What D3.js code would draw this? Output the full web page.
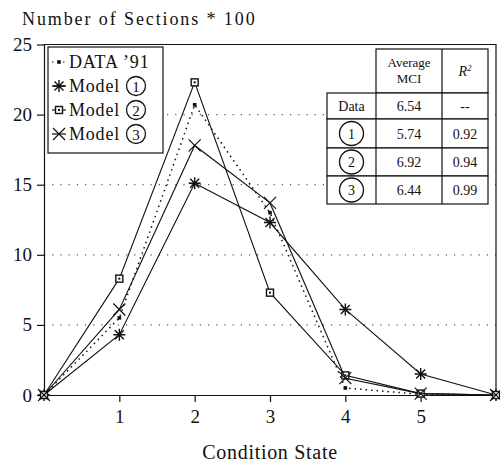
<!DOCTYPE html>
<html>
<head>
<meta charset="utf-8">
<script src="https://d3js.org/d3.v7.min.js"></script>
<style>
  body { margin: 0; background: #fff; }
  svg { font-family: "Liberation Serif", "DejaVu Serif", serif; }
</style>
</head>
<body>
<svg id="chart" width="500" height="464"></svg>
<script>
// condition states on the x axis
const states = [0, 1, 2, 3, 4, 5, 6];
const data91 = [0, 5.5, 20.7, 13.0, 0.5, 0.05, 0];
const model1 = [0, 4.3, 15.1, 12.3, 6.1, 1.5, 0];
const model2 = [0, 8.3, 22.3, 7.3, 1.4, 0.1, 0];
const model3 = [0, 6.1, 17.8, 13.7, 1.2, 0.1, 0];

const yTicks = [0, 5, 10, 15, 20, 25];
const xTicks = [1, 2, 3, 4, 5];
const gridValues = [5, 10, 15, 20];

// table in the top right corner
const tableRows = ['Data', '1', '2', '3'];
const avgMCI = ['6.54', '5.74', '6.92', '6.44'];
const rSquared = ['--', '0.92', '0.94', '0.99'];

const svg = d3.select('#chart');
const plotLeft = 44, plotRight = 496, plotTop = 44.5, plotBottom = 395;

const x = d3.scaleLinear().domain([0, 6]).range([plotLeft, plotRight]);
const y = d3.scaleLinear().domain([0, 25]).range([plotBottom, plotTop]);

// dotted grid
svg.append('g')
  .selectAll('line')
  .data(gridValues)
  .enter()
  .append('line')
  .attr('x1', plotLeft)
  .attr('x2', plotRight)
  .attr('y1', (d) => y(d))
  .attr('y2', (d) => y(d))
  .attr('stroke', '#555')
  .attr('stroke-width', 1.2)
  .attr('stroke-dasharray', '1.2,7');

// frame: top and right
svg.append('path')
  .attr('d', `M${plotLeft},${plotTop}H${plotRight}V${plotBottom}`)
  .attr('fill', 'none')
  .attr('stroke', '#111')
  .attr('stroke-width', 1.2);

// axes
const yAxis = svg.append('g')
  .attr('transform', `translate(${plotLeft},0)`)
  .call(d3.axisLeft(y).tickValues(yTicks).tickFormat(d3.format('d')).tickSize(7).tickSizeOuter(0).tickPadding(5));

const xAxis = svg.append('g')
  .attr('transform', `translate(0,${plotBottom})`)
  .call(d3.axisBottom(x).tickValues(xTicks).tickFormat(d3.format('d')).tickSize(7).tickSizeOuter(0).tickPadding(8));

[yAxis, xAxis].forEach((g) => {
  g.selectAll('path, line').attr('stroke', '#111').attr('stroke-width', 1.2);
  g.selectAll('text')
    .attr('fill', '#111')
    .style('font-family', '"Liberation Serif", serif')
    .style('font-size', '19px');
});

// series
const line = d3.line()
  .x((d, i) => x(states[i]))
  .y((d) => y(d));

const series = [
  { name: 'DATA \u201991', values: data91, dash: '1.5,4', marker: 'dot', num: null },
  { name: 'Model', values: model1, dash: null, marker: 'star', num: '1' },
  { name: 'Model', values: model2, dash: null, marker: 'square', num: '2' },
  { name: 'Model', values: model3, dash: null, marker: 'cross', num: '3' }
];

function drawMarker(g, type) {
  if (type === 'dot') {
    g.append('rect').attr('x', -1.8).attr('y', -1.8).attr('width', 3.6).attr('height', 3.6).attr('fill', '#111');
  } else if (type === 'star') {
    g.append('path')
      .attr('d', 'M-6,0H6M0,-6V6M-4.5,-4.5L4.5,4.5M-4.5,4.5L4.5,-4.5')
      .attr('stroke', '#111').attr('stroke-width', 1.4);
  } else if (type === 'square') {
    g.append('rect').attr('x', -3.5).attr('y', -3.5).attr('width', 7).attr('height', 7)
      .attr('fill', '#fff').attr('stroke', '#111').attr('stroke-width', 1.4);
    g.append('rect').attr('x', -1).attr('y', -1).attr('width', 2).attr('height', 2).attr('fill', '#111');
  } else if (type === 'cross') {
    g.append('path')
      .attr('d', 'M-6,-6L6,6M-6,6L6,-6')
      .attr('stroke', '#111').attr('stroke-width', 1.2);
  }
}

series.forEach((s) => {
  svg.append('path')
    .datum(s.values)
    .attr('d', line)
    .attr('fill', 'none')
    .attr('stroke', '#111')
    .attr('stroke-width', s.dash ? 1.5 : 1.1)
    .attr('stroke-dasharray', s.dash);

  s.values.forEach((v, i) => {
    const g = svg.append('g').attr('transform', `translate(${x(states[i])},${y(v)})`);
    drawMarker(g, s.marker);
  });
});

// legend
const legend = svg.append('g');
legend.append('rect')
  .attr('x', 48).attr('y', 47).attr('width', 115).attr('height', 106)
  .attr('fill', '#fff').attr('stroke', '#111').attr('stroke-width', 1.2);

series.forEach((s, i) => {
  const cy = 62 + i * 24;
  const g = legend.append('g').attr('transform', `translate(0,${cy})`);
  g.append('line').attr('x1', 52).attr('x2', 66).attr('y1', 0).attr('y2', 0)
    .attr('stroke', '#111').attr('stroke-width', 1.2).attr('stroke-dasharray', s.dash);
  const m = g.append('g').attr('transform', 'translate(59,0)');
  drawMarker(m, s.marker);
  g.append('text')
    .attr('x', 69).attr('y', 6)
    .style('font-size', '18px')
    .style('letter-spacing', '0.8px')
    .attr('fill', '#111')
    .text(s.name);
  if (s.num) {
    g.append('circle').attr('cx', 136).attr('cy', 0).attr('r', 9.5)
      .attr('fill', 'none').attr('stroke', '#111').attr('stroke-width', 1.3);
    g.append('text').attr('x', 136).attr('y', 5.5).attr('text-anchor', 'middle')
      .style('font-size', '15px').attr('fill', '#111').text(s.num);
  }
});

// table
const colX = [327, 376, 442, 488];
const rowY = [49, 93, 119, 148, 176, 204];
const table = svg.append('g');
table.append('rect')
  .attr('x', colX[1]).attr('y', rowY[0]).attr('width', colX[3] - colX[1]).attr('height', rowY[1] - rowY[0])
  .attr('fill', '#fff').attr('stroke', '#111').attr('stroke-width', 1.2);
table.append('line').attr('x1', colX[2]).attr('x2', colX[2]).attr('y1', rowY[0]).attr('y2', rowY[1])
  .attr('stroke', '#111').attr('stroke-width', 1.2);
table.append('text').attr('x', (colX[1] + colX[2]) / 2).attr('y', rowY[0] + 18)
  .attr('text-anchor', 'middle').style('font-size', '13px').attr('fill', '#111').text('Average');
table.append('text').attr('x', (colX[1] + colX[2]) / 2).attr('y', rowY[0] + 34)
  .attr('text-anchor', 'middle').style('font-size', '13px').attr('fill', '#111').text('MCI');
const r2 = table.append('text').attr('x', (colX[2] + colX[3]) / 2).attr('y', rowY[0] + 27)
  .attr('text-anchor', 'middle').style('font-size', '14px').style('font-style', 'italic').attr('fill', '#111');
r2.append('tspan').text('R');
r2.append('tspan').attr('dy', -5).style('font-size', '9px').text('2');

tableRows.forEach((label, i) => {
  const y0 = rowY[i + 1], y1 = rowY[i + 2];
  const cy = (y0 + y1) / 2;
  table.append('rect')
    .attr('x', colX[0]).attr('y', y0).attr('width', colX[3] - colX[0]).attr('height', y1 - y0)
    .attr('fill', '#fff').attr('stroke', '#111').attr('stroke-width', 1.2);
  [colX[1], colX[2]].forEach((cx) => {
    table.append('line').attr('x1', cx).attr('x2', cx).attr('y1', y0).attr('y2', y1)
      .attr('stroke', '#111').attr('stroke-width', 1.2);
  });
  const lx = (colX[0] + colX[1]) / 2;
  if (i > 0) {
    table.append('circle').attr('cx', lx).attr('cy', cy).attr('r', 12)
      .attr('fill', 'none').attr('stroke', '#111').attr('stroke-width', 1.3);
  }
  table.append('text').attr('x', lx).attr('y', cy + 5).attr('text-anchor', 'middle')
    .style('font-size', '14px').attr('fill', '#111').text(label);
  table.append('text').attr('x', (colX[1] + colX[2]) / 2).attr('y', cy + 5).attr('text-anchor', 'middle')
    .style('font-size', '14px').attr('fill', '#111').text(avgMCI[i]);
  table.append('text').attr('x', (colX[2] + colX[3]) / 2).attr('y', cy + 5).attr('text-anchor', 'middle')
    .style('font-size', '14px').attr('fill', '#111').text(rSquared[i]);
});

// titles
svg.append('text')
  .attr('x', 22).attr('y', 25)
  .style('font-size', '18px')
  .style('letter-spacing', '1.9px')
  .attr('fill', '#111')
  .text('Number of Sections * 100');

svg.append('text')
  .attr('x', 270).attr('y', 459)
  .attr('text-anchor', 'middle')
  .style('font-size', '20px')
  .style('letter-spacing', '0.7px')
  .attr('fill', '#111')
  .text('Condition State');
</script>
</body>
</html>
